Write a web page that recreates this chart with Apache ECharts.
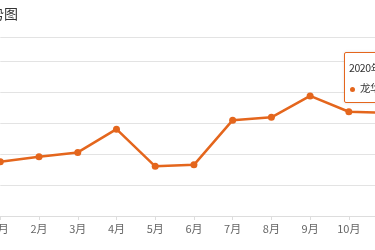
<!DOCTYPE html>
<html>
<head>
<meta charset="utf-8">
<script src="https://cdn.jsdelivr.net/npm/echarts@6/dist/echarts.min.js"></script>
<style>
html,body{margin:0;padding:0;background:#fff;}
#chart{width:375px;height:250px;}
</style>
</head>
<body>
<div id="chart"></div>
<script>
var titleText = '龙华区房价走势图';
var categories = ['1月','2月','3月','4月','5月','6月','7月','8月','9月','10月','11月','12月'];
var values = [17500, 19100, 20500, 28000, 16000, 16500, 30900, 31800, 38700, 33600, 33200, 33500];
var yTicks = [0, 10000, 20000, 30000, 40000, 50000];
var tipTitle = '2020年11月';
var tipName = '龙华区';
var lineColor = '#e4661d';

var chart = echarts.init(document.getElementById('chart'));
chart.setOption({
  animation: false,
  graphic: [{
    type: 'text', x: 18, y: 14,
    style: {text: titleText, fill: '#333', font: '14px "Noto Sans CJK SC"', textAlign: 'right', textVerticalAlign: 'middle'}
  }],
  grid: {left: 0.3, width: 426, top: 37, bottom: 34, containLabel: false, outerBoundsMode: 'none'},
  xAxis: {
    type: 'category', data: categories, boundaryGap: false,
    axisLine: {lineStyle: {color: '#ddd'}},
    axisTick: {show: true, length: 4, lineStyle: {color: '#ddd'}},
    axisLabel: {color: '#666', fontSize: 11, margin: 7, fontFamily: 'Noto Sans CJK SC'}
  },
  yAxis: {
    type: 'value', min: yTicks[0], max: 57700, interval: yTicks[1] - yTicks[0],
    axisLine: {show: false}, axisTick: {show: false},
    axisLabel: {show: false},
    splitLine: {lineStyle: {color: '#e3e3e3'}}
  },
  tooltip: {
    trigger: 'item', triggerOn: 'none', alwaysShowContent: true,
    position: [344, 52],
    backgroundColor: '#fff', borderColor: lineColor, borderWidth: 1,
    padding: [7, 6, 6, 4],
    extraCssText: 'box-shadow:0 0 3px rgba(0,0,0,0.12);border-radius:2px;',
    formatter: function (p) {
      return '<div style="font-family:\'Noto Sans CJK SC\';font-size:10.5px;letter-spacing:-0.4px;color:#333;line-height:16px;white-space:nowrap">' +
        '<div>' + tipTitle + '</div>' +
        '<div style="margin-top:4px"><span style="display:inline-block;width:5px;height:5px;border-radius:3px;background:' + lineColor + ';margin-left:1px;margin-right:5px;vertical-align:middle"></span>' +
        tipName + '：' + p.value + '</div></div>';
    }
  },
  series: [{
    type: 'line', name: tipName, data: values,
    symbol: 'circle', symbolSize: 7,
    lineStyle: {color: lineColor, width: 2.5},
    itemStyle: {color: lineColor},
    emphasis: {disabled: true}
  }]
});
setTimeout(function(){ chart.dispatchAction({type: 'showTip', seriesIndex: 0, dataIndex: 10}); }, 10);
</script>
</body>
</html>
